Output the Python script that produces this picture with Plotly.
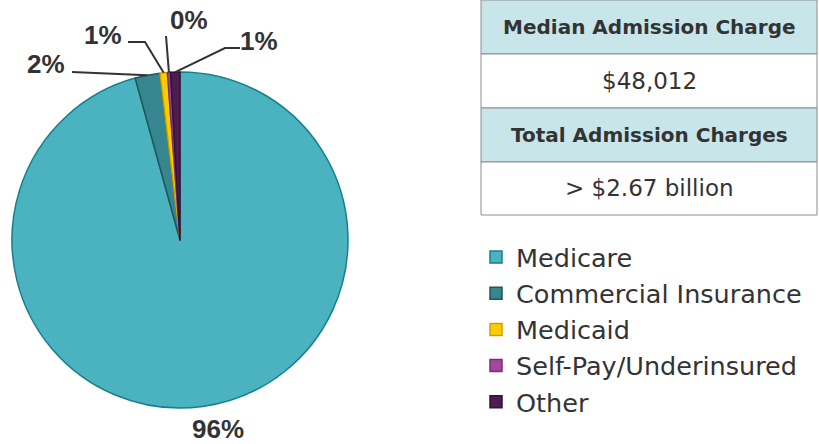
import math
import plotly.graph_objects as go

W, H = 819, 444

# ---- data ----
payers = ["Medicare", "Commercial Insurance", "Medicaid", "Self-Pay/Underinsured", "Other"]
shares = [95.7, 2.4, 0.7, 0.3, 0.9]
table_labels = ["Median Admission Charge", "Total Admission Charges"]
table_values = ["$48,012", "> $2.67 billion"]

# ---- styles ----
fill_colors = ["#4bb3bf", "#35868f", "#ffcc00", "#a6479e", "#4d1d4f"]
line_colors = ["#14808c", "#23545a", "#c9a200", "#7a2f74", "#33133a"]
txt = "#333333"
font_lbl = "Liberation Sans"
font_txt = "DejaVu Sans"

def px(x):
    return x / W

def py(y):
    return 1 - y / H

# pie geometry (pixels)
cx, cy, r = 180, 240, 168

fig = go.Figure()
fig.add_trace(go.Pie(
    labels=payers, values=shares, sort=False, direction="clockwise", rotation=0,
    marker=dict(colors=fill_colors, line=dict(color=line_colors, width=1.5)),
    textinfo="none", hoverinfo="label+percent",
    domain=dict(x=[px(cx - r), px(cx + r)], y=[py(cy + r), py(cy - r)]),
    showlegend=True,
))

# label placement (pixel positions of the text, and leader-line starts/elbows)
label_pos = [(218, 429), (46, 64), (103, 35), (189, 20), (259, 41)]
leader = [None, [(72, 72)], [(128, 42), (145, 42)], [(166, 36)], [(240, 48), (225, 48)]]

total = sum(shares)
cum = 0.0
shapes = []
annotations = []
for i, v in enumerate(shares):
    mid = (cum + v / 2) / total * 2 * math.pi
    cum += v
    ex, ey = cx + r * math.sin(mid), cy - r * math.cos(mid)
    lx, ly = label_pos[i]
    annotations.append(dict(x=px(lx), y=py(ly), xref="paper", yref="paper",
                            text=f"<b>{round(v / total * 100)}%</b>", showarrow=False,
                            font=dict(family=font_lbl, size=26, color=txt),
                            xanchor="center", yanchor="middle"))
    if leader[i]:
        pts = leader[i] + [(ex, ey)]
        path = "M " + " L ".join(f"{px(a)},{py(b)}" for a, b in pts)
        shapes.append(dict(type="path", path=path, xref="paper", yref="paper",
                           line=dict(color=txt, width=2)))

# info table (header rows tinted, value rows white)
hdr = "#c8e6ea"
tx0, tx1 = 481, 817
row_edges = [0, 54, 108, 162, 215]
rows = []
for lab, val in zip(table_labels, table_values):
    rows.append((f"<b>{lab}</b>", hdr, 20))
    rows.append((val, "#ffffff", 23))
for k, (t, fc, fs) in enumerate(rows):
    y0, y1 = row_edges[k], row_edges[k + 1]
    shapes.append(dict(type="rect", xref="paper", yref="paper",
                       x0=px(tx0), x1=px(tx1), y0=py(y1), y1=py(y0),
                       fillcolor=fc, line=dict(color="#8c8c8c", width=1), layer="below"))
    annotations.append(dict(x=px((tx0 + tx1) / 2), y=py((y0 + y1) / 2), xref="paper", yref="paper",
                            text=t, showarrow=False, xanchor="center", yanchor="middle",
                            font=dict(family=font_txt, size=fs, color=txt)))

fig.update_layout(
    width=W, height=H, margin=dict(l=0, r=0, t=0, b=0),
    paper_bgcolor="white", plot_bgcolor="white",
    shapes=shapes, annotations=annotations,
    legend=dict(x=px(476), y=py(234), xanchor="left", yanchor="top",
                font=dict(family=font_txt, size=25.5, color=txt), bgcolor="rgba(0,0,0,0)"),
)

fig.write_html("out.html", config={"displayModeBar": False},
               post_script="document.body.style.margin='0';")
